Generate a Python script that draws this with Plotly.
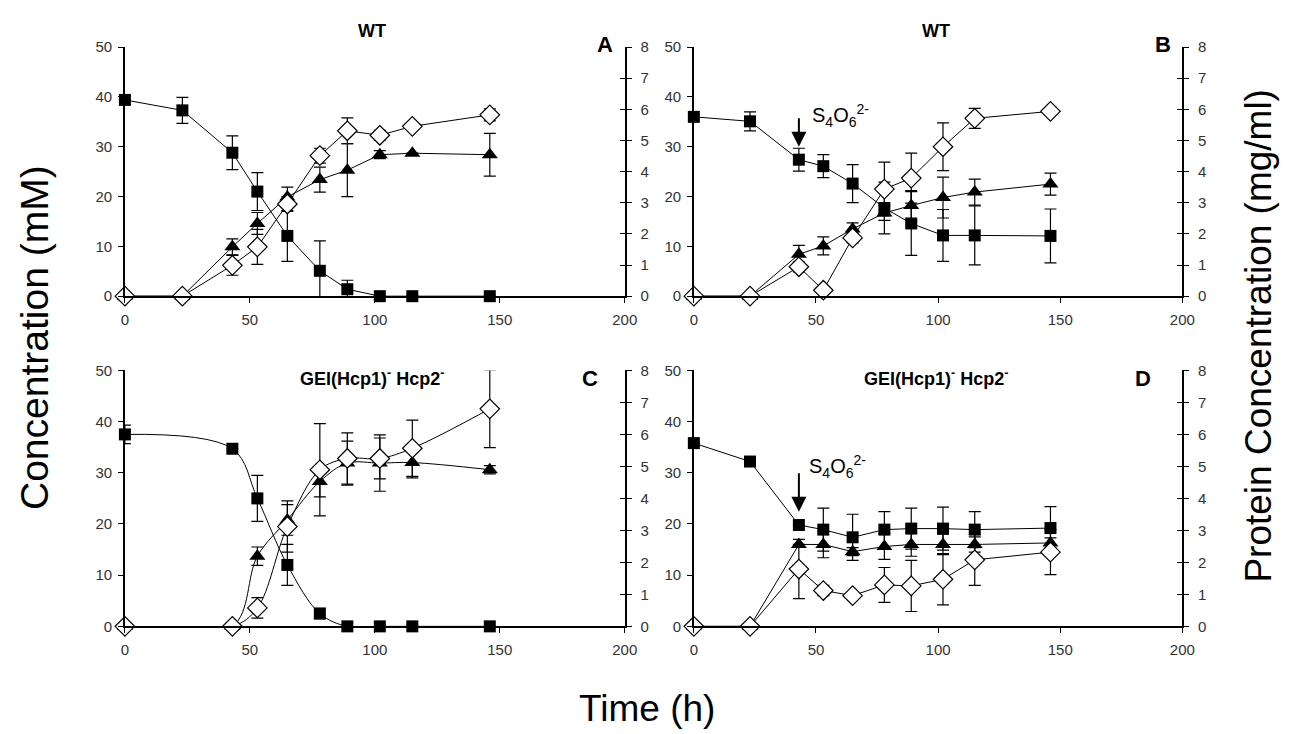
import plotly.graph_objects as go

FONT = "Arial, Liberation Sans, sans-serif"

# ---------------- data ----------------
# Panel A (WT)
t_A = [0, 23, 43, 53, 65, 78, 89, 102, 115, 146]
sq_A = [39.4, 37.3, 28.8, 21.0, 12.1, 5.1, 1.4, 0, 0, 0]
sq_A_err = [0, 2.6, 3.4, 3.8, 5.1, 6.0, 1.8, 0, 0, 0]
tri_A = [0, 0, 9.9, 14.6, 19.9, 23.4, 25.3, 28.4, 28.7, 28.4]
tri_A_err = [0, 0, 1.6, 2.2, 2.0, 2.5, 5.3, 0.8, 0, 4.3]
dia_A = [0, 0, 6.2, 9.9, 18.5, 28.2, 33.2, 32.3, 34.1, 36.4]
dia_A_err = [0, 0, 2.0, 3.5, 1.5, 1.5, 2.6, 1.0, 0, 1.2]

# Panel B (WT + tetrathionate)
t_B = [0, 23, 43, 53, 65, 78, 89, 102, 115, 146]
sq_B = [36.0, 35.1, 27.4, 26.1, 22.6, 17.7, 14.6, 12.2, 12.2, 12.1]
sq_B_err = [0, 1.9, 2.3, 2.3, 3.8, 5.2, 6.4, 5.2, 5.9, 5.4]
tri_B = [0, 0, 8.4, 10.1, 13.5, 16.7, 18.2, 19.8, 20.9, 22.5]
tri_B_err = [0, 0, 1.8, 1.8, 1.2, 1.5, 3.0, 4.1, 2.6, 2.2]
dia_B = [0, 0, 5.9, 1.2, 11.7, 21.5, 23.7, 30.0, 35.7, 37.1]
dia_B_err = [0, 0, 1.0, 0, 1.0, 5.4, 5.0, 4.8, 2.0, 0.5]

# Panel C (GEI(Hcp1)- Hcp2-)
t_C = [0, 43, 53, 65, 78, 89, 102, 115, 146]
sq_C = [37.5, 34.7, 25.0, 12.0, 2.5, 0, 0, 0, 0]
sq_C_err = [1.8, 0, 4.5, 4.0, 1.0, 0, 0, 0, 0]
tri_C = [0, 0, 13.7, 20.8, 28.3, 31.9, 31.9, 32.0, 30.6]
tri_C_err = [0, 0, 1.8, 3.0, 3.0, 4.3, 5.5, 3.0, 0.8]
dia_C = [0, 0, 3.6, 19.5, 30.6, 32.8, 32.8, 34.8, 42.5]
dia_C_err = [0, 0, 2.0, 5.0, 9.0, 5.0, 4.0, 5.5, 7.6]

# Panel D (GEI(Hcp1)- Hcp2- + tetrathionate)
t_D = [0, 23, 43, 53, 65, 78, 89, 102, 115, 146]
sq_D = [35.8, 32.2, 19.8, 18.9, 17.4, 18.9, 19.1, 19.1, 18.9, 19.2]
sq_D_err = [0, 0, 0, 4.2, 4.5, 3.5, 4.0, 4.2, 3.5, 4.2]
tri_D = [0, 0, 16.0, 16.0, 14.6, 15.6, 16.0, 16.0, 16.0, 16.3]
tri_D_err = [0, 0, 0, 2.6, 0.8, 2.5, 2.3, 2.0, 1.5, 1.0]
dia_D = [0, 0, 11.2, 7.0, 6.0, 8.1, 7.9, 9.2, 13.0, 14.5]
dia_D_err = [0, 0, 5.8, 1.0, 0, 3.4, 5.0, 5.0, 5.0, 4.4]

x_ticks = [0, 50, 100, 150, 200]
left_ticks = [0, 10, 20, 30, 40, 50]
right_ticks = [0, 1, 2, 3, 4, 5, 6, 7, 8]

panel_titles = ["<b>WT</b>", "<b>WT</b>",
                "<b>GEI(Hcp1)<sup>-</sup> Hcp2<sup>-</sup></b>",
                "<b>GEI(Hcp1)<sup>-</sup> Hcp2<sup>-</sup></b>"]
panel_letters = ["A", "B", "C", "D"]

panels = [
    (t_A, sq_A, sq_A_err, tri_A, tri_A_err, dia_A, dia_A_err, "linear"),
    (t_B, sq_B, sq_B_err, tri_B, tri_B_err, dia_B, dia_B_err, "linear"),
    (t_C, sq_C, sq_C_err, tri_C, tri_C_err, dia_C, dia_C_err, "spline"),
    (t_D, sq_D, sq_D_err, tri_D, tri_D_err, dia_D, dia_D_err, "linear"),
]

# panel domains (paper fraction)
W, H = 1298, 734
XA = [122.5 / W, 629 / W]
XB = [699 / W, 1194 / W]
YT = [1 - 294 / H, 1 - 39 / H]
YBt = [1 - 632 / H, 1 - 370 / H]
XD = {1: XA, 2: XB, 3: XA, 4: XB}
YD = {1: YT, 2: YT, 3: YBt, 4: YBt}

fig = go.Figure()


def errs(arr):
    return [e if e > 0 else None for e in arr]


for i, (t, sq, sqe, tri, trie, dia, diae, shape) in enumerate(panels, start=1):
    xa = "x" if i == 1 else f"x{i}"
    ya = "y" if i == 1 else f"y{i}"
    line = dict(color="black", width=1, shape=shape, smoothing=1.0)
    eb = dict(type="data", visible=True, color="black", thickness=1.2, width=6)
    fig.add_trace(go.Scatter(
        x=t, y=sq, mode="lines+markers", xaxis=xa, yaxis=ya, cliponaxis=False,
        line=line, marker=dict(symbol="square", size=12, color="black"),
        error_y=dict(eb, array=errs(sqe)), showlegend=False))
    fig.add_trace(go.Scatter(
        x=t, y=tri, mode="lines+markers", xaxis=xa, yaxis=ya, cliponaxis=False,
        line=line, marker=dict(symbol="triangle-up", size=14, color="black"),
        error_y=dict(eb, array=errs(trie)), showlegend=False))
    fig.add_trace(go.Scatter(
        x=t, y=dia, mode="lines+markers", xaxis=xa, yaxis=ya, cliponaxis=False,
        line=line, marker=dict(symbol="diamond", size=15, color="white",
                               line=dict(color="black", width=1.2)),
        error_y=dict(eb, array=errs(diae)), showlegend=False))
    # empty traces so the right-hand protein axes are drawn
    for k in (4 + i, 8 + i):
        fig.add_trace(go.Scatter(x=[None], y=[None], xaxis=xa, yaxis=f"y{k}",
                                 mode="markers", showlegend=False, hoverinfo="skip"))

tickfont = dict(family=FONT, size=15, color="#333333")
layout = dict(
    width=W, height=H,
    margin=dict(l=0, r=0, t=0, b=0),
    paper_bgcolor="white", plot_bgcolor="white",
    font=dict(family=FONT, color="black"),
    showlegend=False,
)
annotations = []
letter_x = [192, 192, 186, 184]
letter_ypx = [36, 36, 378, 378]
for i in range(1, 5):
    xk = "xaxis" if i == 1 else f"xaxis{i}"
    yk = "yaxis" if i == 1 else f"yaxis{i}"
    xr = "x" if i == 1 else f"x{i}"
    yr = "y" if i == 1 else f"y{i}"
    layout[xk] = dict(domain=XD[i], anchor=yr, range=[0, 200], tickvals=x_ticks,
                      ticks="outside", ticklen=5, tickcolor="black", tickwidth=1.2,
                      showline=True, linecolor="black", linewidth=1.5,
                      showgrid=False, zeroline=False, tickfont=tickfont,
                      ticklabelstandoff=4)
    layout[yk] = dict(domain=YD[i], anchor=xr, range=[0, 50], tickvals=left_ticks,
                      ticks="outside", ticklen=5, tickcolor="black", tickwidth=1.2,
                      showline=True, linecolor="black", linewidth=1.5,
                      showgrid=False, zeroline=False, tickfont=tickfont,
                      ticklabelstandoff=3)
    layout[f"yaxis{4 + i}"] = dict(overlaying=yr, side="right", anchor=xr, range=[0, 8],
                                   tickvals=right_ticks, ticks="outside", ticklen=5,
                                   tickcolor="black", tickwidth=1.2,
                                   showline=True, linecolor="black", linewidth=1.5,
                                   showgrid=False, zeroline=False, tickfont=tickfont,
                                   ticklabelstandoff=6)
    layout[f"yaxis{8 + i}"] = dict(overlaying=yr, side="right", anchor=xr, range=[0, 8],
                                   tickvals=right_ticks, ticks="inside", ticklen=5,
                                   tickcolor="black", tickwidth=1.2, showline=False,
                                   showgrid=False, zeroline=False, showticklabels=False)
    # panel title (paper coordinates)
    xd, yd = XD[i], YD[i]
    xc = xd[0] + (xd[1] - xd[0]) * 99 / 200
    if i <= 2:
        ty = yd[1] + 16 / H
    else:
        ty = yd[0] + (yd[1] - yd[0]) * 48.6 / 50
    annotations.append(dict(x=xc, y=ty, xref="paper", yref="paper",
                            xanchor="center", yanchor="middle",
                            text=panel_titles[i - 1], showarrow=False,
                            font=dict(family=FONT, size=18, color="black")))
    # panel letter
    lx = xd[0] + (xd[1] - xd[0]) * letter_x[i - 1] / 200
    annotations.append(dict(x=lx, y=1 - letter_ypx[i - 1] / H, xref="paper", yref="paper",
                            xanchor="center", yanchor="middle",
                            text=f"<b>{panel_letters[i - 1]}</b>", showarrow=False,
                            font=dict(family=FONT, size=22, color="black")))

# tetrathionate addition arrows
arrow_specs = [("x2", "y2", 43, 30.0, 36.0, 60, 36.2),
               ("x4", "y4", 43, 22.4, 30.2, 59, 31.2)]
for xr, yr, ax_, tip, tail, tx, ty in arrow_specs:
    annotations.append(dict(x=ax_, y=tip, ax=ax_, ay=tail, xref=xr, yref=yr,
                            axref=xr, ayref=yr, text="", showarrow=True,
                            arrowhead=2, arrowsize=1.5, arrowwidth=2, arrowcolor="black"))
    annotations.append(dict(x=tx, y=ty, xref=xr, yref=yr,
                            xanchor="center", yanchor="middle",
                            text="S<sub>4</sub>O<sub>6</sub><sup>2-</sup>",
                            showarrow=False, font=dict(family=FONT, size=20, color="black")))

# axis titles
annotations.append(dict(x=31 / W, y=0.542, xref="paper", yref="paper",
                        xanchor="center", yanchor="middle",
                        text="Concentration (mM)", textangle=-90, showarrow=False,
                        font=dict(family=FONT, size=39, color="black")))
annotations.append(dict(x=1271 / W, y=0.545, xref="paper", yref="paper",
                        xanchor="center", yanchor="middle",
                        text="Protein Concentration (mg/ml)", textangle=-90, showarrow=False,
                        font=dict(family=FONT, size=37, color="black")))
annotations.append(dict(x=652 / W, y=1 - 716 / H, xref="paper", yref="paper",
                        xanchor="center", yanchor="middle",
                        text="Time (h)", showarrow=False,
                        font=dict(family=FONT, size=37, color="black")))
layout["annotations"] = annotations

fig.update_layout(**layout)
fig.write_html("out.html")
